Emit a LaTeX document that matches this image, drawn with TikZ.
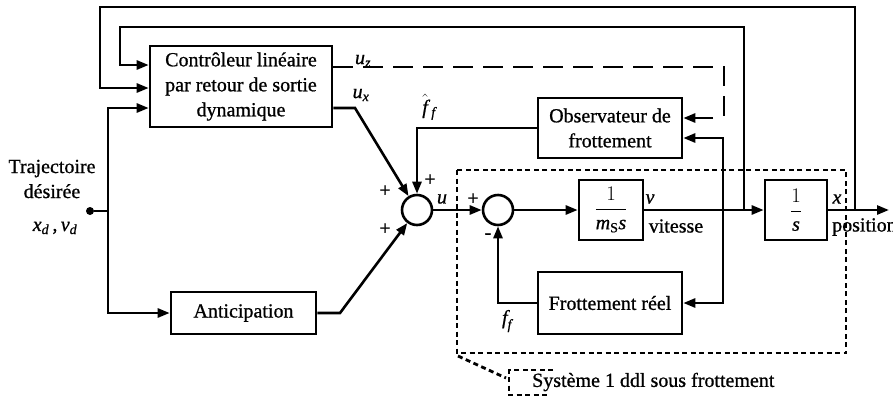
\documentclass[tikz,border=0pt]{standalone}
\usepackage{amsmath}
\usepackage{fontspec}
\setmainfont{Liberation Serif}[FakeBold=0.8]
\usetikzlibrary{arrows.meta}

% italic symbol with italic subscript
\newcommand\sbs[2]{$\textit{#1}_{\textit{#2}}$}

\begin{document}
\begin{tikzpicture}[x=1pt,y=-1pt,
  font=\fontsize{20}{25}\selectfont,
  wire/.style={line width=2.6pt},
  arr/.style={wire,-{Triangle[length=12pt,width=9pt]}},
  blockbox/.style={draw,line width=2.6pt,align=center,inner sep=0pt},
  sumnode/.style={draw,circle,line width=2.6pt,minimum size=30pt,inner sep=0pt},
  lbl/.style={inner sep=0pt},
  sysframe/.style={line width=2.8pt,dash pattern=on 5pt off 3.5pt},
  ctrlsig/.style={line width=2.6pt,dash pattern=on 20pt off 10pt}]
\useasboundingbox (0,0) rectangle (893,397);

% blocks
\node[blockbox,minimum width=182pt,minimum height=81pt] (ctrl) at (241,86.5)
  {Contrôleur linéaire\\par retour de sortie\\dynamique};
\node[blockbox,minimum width=144pt,minimum height=60pt] (obs) at (610,128)
  {Observateur de\\frottement};
\node[sumnode] (s1) at (417,210) {};
\node[sumnode] (s2) at (498,210) {};
\node[blockbox,minimum width=64pt,minimum height=60pt] (g1) at (611,210)
  {$\dfrac{1}{\textit{m}_{\text{S}}\textit{s}}$};
\node[blockbox,minimum width=62pt,minimum height=60pt] (g2) at (796,210)
  {$\dfrac{1}{\textit{s}}$};
\node[blockbox,minimum width=144pt,minimum height=62pt] (fr) at (610,303)
  {Frottement réel};
\node[blockbox,minimum width=145pt,minimum height=42pt] (ant) at (243.5,313)
  {Anticipation};

% reference input
\node[lbl,align=center] (traj) at (52,179) {Trajectoire\\désirée};
\node[circle,fill,inner sep=0pt,minimum size=8pt] (in) at (90,211) {};
\node[lbl] (xdvd) at (55,228) {\sbs{x}{d}\,,\,\sbs{v}{d}};

% junction points
\coordinate (bus) at (108,211);
\coordinate (vj) at (744,210);
\coordinate (vj2) at (723,210);
\coordinate (xj) at (855,210);
\coordinate (out) at (889,210);
\coordinate (uzend) at (713,118);

% reference distribution
\draw[wire] (in) -- (bus);
\draw[arr] (bus) |- ([yshift=-21.5pt]ctrl.west);
\draw[arr] (bus) |- (ant.west);

% feedback loops of velocity and position
\draw[arr] (vj) -- (744,27) -- (120,27) |- ([yshift=21.5pt]ctrl.west);
\draw[arr] (xj) -- (855,7) -- (100,7) |- ([yshift=-1.5pt]ctrl.west);

% controller outputs
\draw[ctrlsig] ([yshift=19.5pt]ctrl.east) -- (724,67) -- (724,118);
\draw[arr] (uzend) -- ([yshift=10pt]obs.east);
\draw[arr] ([yshift=-21.5pt]ctrl.east) -- (355,108) -- (s1);
\draw[arr] (obs.west) -| (s1.north);
\draw[arr] (ant.east) -- (340,313) -- (s1);

% forward path
\draw[arr] (s1) -- (s2);
\draw[arr] (s2) -- (g1);
\draw[arr] (g1) -- (g2);
\draw[arr] (g2.east) -- (out);

% friction paths
\draw[arr] (vj2) |- ([yshift=-10pt]obs.east);
\draw[arr] (vj2) |- (fr.east);
\draw[arr] (fr.west) -| (s2.south);

% signal labels
\node[lbl] at (363,61) {\sbs{u}{z}};
\node[lbl] at (361,95) {\sbs{u}{x}};
\node[lbl] at (429,107) {$\hat{\textit{f}}\,_{\textit{f}}$};
\node[lbl] at (385,191) {+};
\node[lbl] at (430,180) {+};
\node[lbl] at (385,229) {+};
\node[lbl] at (442,199) {\textit{u}};
\node[lbl] at (473,199) {+};
\node[lbl] at (488,236) {-};
\node[lbl] at (650,199) {\textit{v}};
\node[lbl] at (676,226) {vitesse};
\node[lbl] at (837,199) {\textit{x}};
\node[lbl,anchor=west] at (832,227) {position};
\node[lbl] at (507,321) {\sbs{f}{f}};

% plant frame and its caption
\draw[sysframe] (457,170) rectangle (846,353);
\draw[sysframe] (458,356) -- (506,378);
\draw[sysframe] (553,370) -- (509,370) -- (509,395) -- (550,395);
\node[lbl,anchor=west] (sys) at (532,382) {Système 1 ddl sous frottement};
\end{tikzpicture}
\end{document}
